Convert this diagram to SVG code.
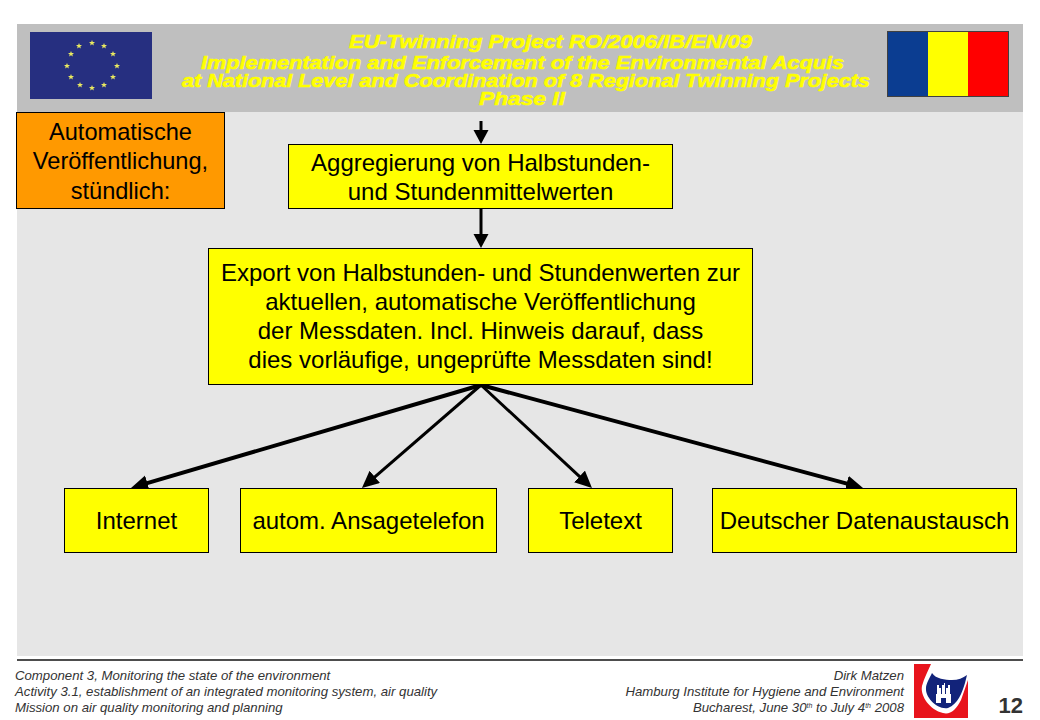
<svg xmlns="http://www.w3.org/2000/svg" xmlns:xlink="http://www.w3.org/1999/xlink" width="1040" height="720" viewBox="0 0 1040 720">
<style>
text{font-family:"Liberation Sans",Arial,sans-serif}
.box{stroke:#000;stroke-width:1}
.y{fill:#ffff00}
.t{font-size:24px;fill:#000;text-anchor:middle}
.t2{font-size:23.600px}
.h{font-size:18.500px;font-weight:bold;font-style:italic;fill:#ffff00;stroke:#ffff00;stroke-width:.6;text-anchor:middle}
.f{font-size:13.200px;font-style:italic;fill:#333}
.r{text-anchor:end}
.c{stroke:#000;stroke-width:3;fill:none}
.o{stroke-width:4}
.s{font-size:7px}
</style>
<defs>
<marker id="a" markerUnits="userSpaceOnUse" markerWidth="18" markerHeight="18" refX="9" refY="8" orient="auto"><path d="M0 0L17 8L0 16z" fill="#000"/></marker>
<marker id="b" markerUnits="userSpaceOnUse" markerWidth="16" markerHeight="16" refX="6" refY="7.500" orient="auto"><path d="M0 0L14 7.500L0 15z" fill="#000"/></marker>
<polygon id="st" points="0,-3 .8,-.9 3,-.9 1.300,.4 1.900,2.500 0,1.200 -1.900,2.500 -1.300,.4 -3,-.9 -.8,-.9" fill="#e8e860"/>
</defs>
<rect width="1040" height="720" fill="#fff"/>
<rect x="17" y="24" width="1006" height="632" fill="#e6e6e6"/>
<rect x="17" y="24" width="1006" height="88" fill="#bfbfbf"/>
<rect x="17" y="659" width="1006" height="2" fill="#4d4d4d"/>
<g id="eu-flag">
<rect x="30" y="32" width="122" height="67" fill="#262f80"/>
<use xlink:href="#st" x="92" y="43"/><use xlink:href="#st" x="104" y="46"/><use xlink:href="#st" x="113" y="54"/><use xlink:href="#st" x="117" y="66"/><use xlink:href="#st" x="113" y="77"/><use xlink:href="#st" x="104" y="85"/><use xlink:href="#st" x="92" y="88"/><use xlink:href="#st" x="80" y="85"/><use xlink:href="#st" x="71" y="77"/><use xlink:href="#st" x="67" y="66"/><use xlink:href="#st" x="71" y="54"/><use xlink:href="#st" x="79" y="46"/>
</g>
<g id="ro-flag">
<rect x="888" y="32" width="41" height="65" fill="#0b3d91"/>
<rect x="928" y="32" width="41" height="65" fill="#ffff00"/>
<rect x="968" y="32" width="40" height="65" fill="#ff0000"/>
<rect x="887.500" y="31.500" width="121" height="65" fill="none" stroke="#404040"/>
</g>
<g id="title">
<text class="h" x="550.500" y="48" textLength="403" lengthAdjust="spacingAndGlyphs">EU-Twinning Project RO/2006/IB/EN/09</text>
<text class="h" x="522.500" y="69" textLength="643" lengthAdjust="spacingAndGlyphs">Implementation and Enforcement of the Environmental Acquis</text>
<text class="h" x="526" y="86.500" textLength="688" lengthAdjust="spacingAndGlyphs">at National Level and Coordination of 8 Regional Twinning Projects</text>
<text class="h" x="522" y="105" textLength="86" lengthAdjust="spacingAndGlyphs">Phase II</text>
</g>
<g id="connectors">
<line class="c" x1="481" y1="121" x2="481" y2="136" marker-end="url(#b)"/>
<line class="c" x1="481" y1="209" x2="481" y2="240" marker-end="url(#b)"/>
<line class="c o" x1="481" y1="385" x2="138.700" y2="485.700" marker-end="url(#a)"/>
<line class="c" x1="481" y1="385" x2="368" y2="482.800" marker-end="url(#a)"/>
<line class="c" x1="481" y1="385" x2="586.100" y2="482.600" marker-end="url(#a)"/>
<line class="c o" x1="481" y1="385" x2="855.300" y2="485.900" marker-end="url(#a)"/>
</g>
<g id="node-auto">
<rect class="box" x="16.500" y="112.500" width="208" height="96" fill="#ff9900"/>
<text class="t t2" x="120.500" y="140">Automatische</text>
<text class="t t2" x="120.500" y="169">Veröffentlichung,</text>
<text class="t t2" x="120.500" y="199">stündlich:</text>
</g>
<g id="node-aggregierung">
<rect class="box y" x="288.500" y="144.500" width="384" height="64"/>
<text class="t" x="480.500" y="171">Aggregierung von Halbstunden-</text>
<text class="t" x="480.500" y="200">und Stundenmittelwerten</text>
</g>
<g id="node-export">
<rect class="box y" x="208.500" y="248.500" width="544" height="136"/>
<text class="t" x="480.500" y="281">Export von Halbstunden- und Stundenwerten zur</text>
<text class="t" x="480.500" y="310">aktuellen, automatische Veröffentlichung</text>
<text class="t" x="480.500" y="339">der Messdaten. Incl. Hinweis darauf, dass</text>
<text class="t" x="480.500" y="368">dies vorläufige, ungeprüfte Messdaten sind!</text>
</g>
<g id="node-internet">
<rect class="box y" x="64.500" y="488.500" width="144" height="64"/>
<text class="t" x="136.500" y="529">Internet</text>
</g>
<g id="node-ansage">
<rect class="box y" x="240.500" y="488.500" width="256" height="64"/>
<text class="t" x="368.500" y="529">autom. Ansagetelefon</text>
</g>
<g id="node-teletext">
<rect class="box y" x="528.500" y="488.500" width="144" height="64"/>
<text class="t" x="600.500" y="529">Teletext</text>
</g>
<g id="node-datenaustausch">
<rect class="box y" x="712.500" y="488.500" width="304" height="64"/>
<text class="t" x="864.500" y="529">Deutscher Datenaustausch</text>
</g>
<g id="footer-left">
<text class="f" x="15" y="680">Component 3, Monitoring the state of the environment</text>
<text class="f" x="15" y="696">Activity 3.1, establishment of an integrated monitoring system, air quality</text>
<text class="f" x="15" y="712">Mission on air quality monitoring and planning</text>
</g>
<g id="footer-right">
<text class="f r" x="904" y="680">Dirk Matzen</text>
<text class="f r" x="904" y="696">Hamburg Institute for Hygiene and Environment</text>
<text class="f r" x="904" y="712">Bucharest, June 30<tspan class="s" dy="-4">th</tspan><tspan dy="4"> to July 4</tspan><tspan class="s" dy="-4">th</tspan><tspan dy="4"> 2008</tspan></text>
</g>
<g id="logo">
<rect x="914" y="664" width="54" height="54" fill="#e8141c"/>
<path d="M931 664L968 664L968 680L961 700C956 710 950 715 943 713C930 710 920 696 922 686C924 678 928 671 931 664Z" fill="#fff"/>
<path d="M932 673C936 679 945 680 952 680C958 680 963 678 967 675L965 683C962 693 958 704 948 708C937 710 925 697 926 688C926 684 930 677 932 673Z" fill="#12237a"/>
<path d="M936 703V694H937V685H939V688H941V694H942V685H944V683H945V685H945V694H946V688H948V685H950V694H951V703H946V698H941V703Z" fill="#fff"/>
</g>
<text x="1023" y="713" font-size="22" font-weight="bold" fill="#333" text-anchor="end">12</text>
</svg>
